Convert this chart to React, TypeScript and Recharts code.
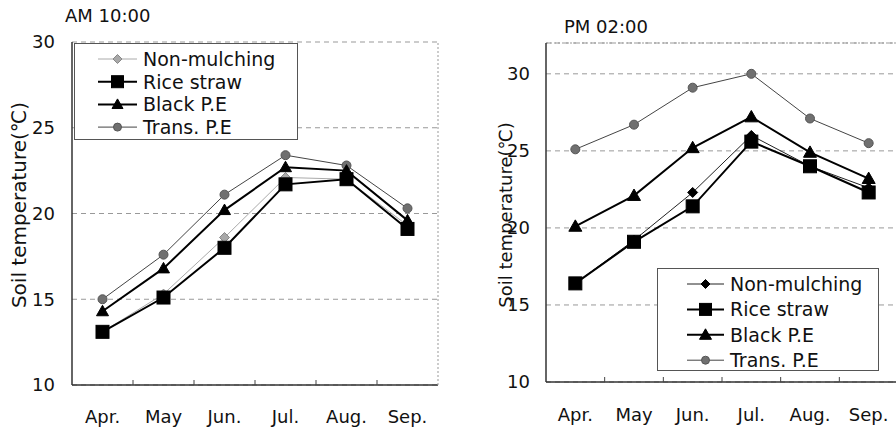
import React from 'react';
import { LineChart, Line, XAxis, YAxis, CartesianGrid, Legend, ReferenceLine } from 'recharts';

const months = ['Apr.', 'May', 'Jun.', 'Jul.', 'Aug.', 'Sep.'];

// AM 10:00
const amNonMulching = [13.1, 15.3, 18.6, 22.1, 22.0, 19.3];
const amRiceStraw = [13.1, 15.1, 18.0, 21.7, 22.0, 19.1];
const amBlackPE = [14.3, 16.8, 20.2, 22.7, 22.5, 19.6];
const amTransPE = [15.0, 17.6, 21.1, 23.4, 22.8, 20.3];

// PM 02:00
const pmNonMulching = [16.4, 19.2, 22.3, 26.0, 24.0, 22.6];
const pmRiceStraw = [16.4, 19.1, 21.4, 25.6, 24.0, 22.3];
const pmBlackPE = [20.1, 22.1, 25.2, 27.2, 24.9, 23.2];
const pmTransPE = [25.1, 26.7, 29.1, 30.0, 27.1, 25.5];

const yTicks = [10, 15, 20, 25, 30];
const yLabel = 'Soil temperature(℃)';

const FONT = '"DejaVu Sans", sans-serif';

type Shape = 'diamond' | 'square' | 'triangle' | 'circle';
type SeriesStyle = {
  key: string;
  name: string;
  shape: Shape;
  size: number;
  fill: string;
  dotStroke: string;
  stroke: string;
  width: number;
};

function Marker({ shape, cx, cy, size, fill, stroke }: any) {
  const r = size / 2;
  if (shape === 'square') {
    return <rect x={cx - r} y={cy - r} width={size} height={size} fill={fill} stroke={stroke} />;
  }
  if (shape === 'triangle') {
    return (
      <polygon
        points={`${cx},${cy - r} ${cx + r},${cy + r * 0.75} ${cx - r},${cy + r * 0.75}`}
        fill={fill}
        stroke={stroke}
      />
    );
  }
  if (shape === 'diamond') {
    return (
      <polygon
        points={`${cx},${cy - r} ${cx + r},${cy} ${cx},${cy + r} ${cx - r},${cy}`}
        fill={fill}
        stroke={stroke}
      />
    );
  }
  return <circle cx={cx} cy={cy} r={r} fill={fill} stroke={stroke} />;
}

const amStyles: SeriesStyle[] = [
  { key: 'nonMulching', name: 'Non-mulching', shape: 'diamond', size: 10, fill: '#a8a8a8', dotStroke: '#888', stroke: '#aaa', width: 1 },
  { key: 'transPE', name: 'Trans. P.E', shape: 'circle', size: 9, fill: '#707070', dotStroke: '#555', stroke: '#444', width: 1 },
  { key: 'blackPE', name: 'Black P.E', shape: 'triangle', size: 12, fill: '#000', dotStroke: '#000', stroke: '#000', width: 2 },
  { key: 'riceStraw', name: 'Rice straw', shape: 'square', size: 13, fill: '#000', dotStroke: '#000', stroke: '#000', width: 2 },
];

const pmStyles: SeriesStyle[] = [
  { key: 'nonMulching', name: 'Non-mulching', shape: 'diamond', size: 10, fill: '#000', dotStroke: '#000', stroke: '#222', width: 1 },
  { key: 'transPE', name: 'Trans. P.E', shape: 'circle', size: 9, fill: '#707070', dotStroke: '#555', stroke: '#444', width: 1 },
  { key: 'blackPE', name: 'Black P.E', shape: 'triangle', size: 13, fill: '#000', dotStroke: '#000', stroke: '#000', width: 2 },
  { key: 'riceStraw', name: 'Rice straw', shape: 'square', size: 13, fill: '#000', dotStroke: '#000', stroke: '#000', width: 2 },
];

const legendOrder = ['nonMulching', 'riceStraw', 'blackPE', 'transPE'];

function buildData(non: number[], rice: number[], black: number[], trans: number[]) {
  return months.map((m, i) => ({
    month: m,
    nonMulching: non[i],
    riceStraw: rice[i],
    blackPE: black[i],
    transPE: trans[i],
  }));
}

const amData = buildData(amNonMulching, amRiceStraw, amBlackPE, amTransPE);
const pmData = buildData(pmNonMulching, pmRiceStraw, pmBlackPE, pmTransPE);

function LegendBox({ styles, w, h, rowTop, rowGap, lineX0, lineX1, textX, fontSize }: any) {
  const ordered = legendOrder.map((k) => styles.find((s: SeriesStyle) => s.key === k));
  return (
    <svg width={w} height={h} style={{ display: 'block' }}>
      <rect x={0.5} y={0.5} width={w - 1} height={h - 1} fill="#fff" stroke="#555" />
      {ordered.map((s: SeriesStyle, i: number) => {
        const y = rowTop + i * rowGap;
        return (
          <g key={s.key}>
            <line x1={lineX0} x2={lineX1} y1={y} y2={y} stroke={s.stroke} strokeWidth={s.width} />
            <Marker shape={s.shape} cx={(lineX0 + lineX1) / 2} cy={y} size={s.size - 1} fill={s.fill} stroke={s.dotStroke} />
            <text x={textX} y={y} dominantBaseline="central" fontSize={fontSize} fontFamily={FONT} fill="#111">
              {s.name}
            </text>
          </g>
        );
      })}
    </svg>
  );
}

function AxisTitle({ cx, cy, fontSize }: any) {
  return (
    <text
      x={cx}
      y={cy}
      transform={`rotate(-90 ${cx} ${cy})`}
      textAnchor="middle"
      dominantBaseline="central"
      fontSize={fontSize}
      fontFamily={FONT}
      fill="#111"
    >
      {yLabel}
    </text>
  );
}

// month label at the band centre, small inward tick at the band boundary
function MonthTick({ x, y, payload, index, half, plotH, textDy }: any) {
  const bx = x + half;
  const last = index === months.length - 1;
  return (
    <g>
      <text x={x} y={y + textDy} textAnchor="middle" dominantBaseline="central" fontSize={18} fontFamily={FONT} fill="#111">
        {payload.value}
      </text>
      {last ? (
        <line x1={bx} x2={bx} y1={y} y2={y - plotH} stroke="#999" strokeDasharray="2 2" />
      ) : (
        <line x1={bx} x2={bx} y1={y} y2={y - 5} stroke="#444" />
      )}
    </g>
  );
}

function Panel(props: any) {
  const { data, styles, width, margin, yAxisWidth, xAxisHeight, yDomain, xTextDy, yTickMargin, legend, label, topLine } = props;
  const plotW = width - margin.left - margin.right - yAxisWidth;
  const plotH = 432 - margin.top - margin.bottom - xAxisHeight;
  const pad = plotW / months.length / 2;
  const tickStyle = { fill: '#111', fontSize: 18, fontFamily: FONT };
  return (
    <LineChart width={width} height={432} data={data} margin={margin}>
      <CartesianGrid horizontal vertical={false} stroke="#999" strokeDasharray="5 4" />
      <XAxis
        dataKey="month"
        height={xAxisHeight}
        padding={{ left: pad, right: pad }}
        tickLine={false}
        tickSize={0}
        tickMargin={0}
        axisLine={{ stroke: '#333', strokeWidth: 1.5 }}
        tick={<MonthTick half={pad} plotH={plotH} textDy={xTextDy} />}
        interval={0}
      />
      <YAxis
        width={yAxisWidth}
        domain={yDomain}
        ticks={yTicks}
        allowDataOverflow
        tickLine={false}
        tickSize={0}
        tickMargin={yTickMargin}
        axisLine={{ stroke: '#333', strokeWidth: 1.5 }}
        tick={tickStyle}
        label={<AxisTitle cx={label.x} cy={label.y} fontSize={label.size} />}
      />
      {topLine && <ReferenceLine y={yDomain[1]} stroke="#999" strokeDasharray="2 2" />}
      {styles.map((s: SeriesStyle) => (
        <Line
          key={s.key}
          dataKey={s.key}
          name={s.name}
          stroke={s.stroke}
          strokeWidth={s.width}
          isAnimationActive={false}
          activeDot={false}
          dot={(p: any) => (
            <Marker
              key={`${s.key}-${p.index}`}
              shape={s.shape}
              cx={p.cx}
              cy={p.cy}
              size={s.size}
              fill={s.fill}
              stroke={s.dotStroke}
            />
          )}
        />
      ))}
      <Legend
        layout="vertical"
        align="center"
        verticalAlign="middle"
        wrapperStyle={{ left: legend.left, top: legend.top, width: legend.w, height: legend.h }}
        content={() => <LegendBox styles={styles} {...legend} />}
      />
    </LineChart>
  );
}

export default function App() {
  const titleStyle: React.CSSProperties = {
    position: 'absolute',
    fontFamily: FONT,
    fontSize: 18,
    lineHeight: '18px',
    color: '#111',
    whiteSpace: 'nowrap',
  };
  return (
    <div style={{ position: 'absolute', left: 0, top: 0, width: 896, height: 432, overflow: 'hidden', background: '#fff' }}>
      <div style={{ position: 'absolute', left: 0, top: 0 }}>
        <Panel
          data={amData}
          styles={amStyles}
          width={448}
          margin={{ top: 42, right: 10, bottom: 17, left: 22 }}
          yAxisWidth={50}
          xAxisHeight={30}
          yDomain={[10, 30]}
          xTextDy={31}
          yTickMargin={17}
          topLine={false}
          label={{ x: 19, y: 205, size: 20 }}
          legend={{ left: 74, top: 43, w: 224, h: 97, rowTop: 16, rowGap: 22.7, lineX0: 24, lineX1: 63, textX: 69, fontSize: 19 }}
        />
      </div>
      <div style={{ position: 'absolute', left: 448, top: 0 }}>
        <Panel
          data={pmData}
          styles={pmStyles}
          width={452}
          margin={{ top: 43, right: 2, bottom: 20, left: 48 }}
          yAxisWidth={50}
          xAxisHeight={30}
          yDomain={[10, 32]}
          xTextDy={32}
          yTickMargin={16}
          topLine
          label={{ x: 57, y: 215, size: 18 }}
          legend={{ left: 209, top: 268, w: 222, h: 103, rowTop: 16, rowGap: 25.4, lineX0: 30, lineX1: 67, textX: 73, fontSize: 19 }}
        />
      </div>
      <div style={{ ...titleStyle, left: 65, top: 7 }}>AM 10:00</div>
      <div style={{ ...titleStyle, left: 564, top: 18 }}>PM 02:00</div>
    </div>
  );
}
